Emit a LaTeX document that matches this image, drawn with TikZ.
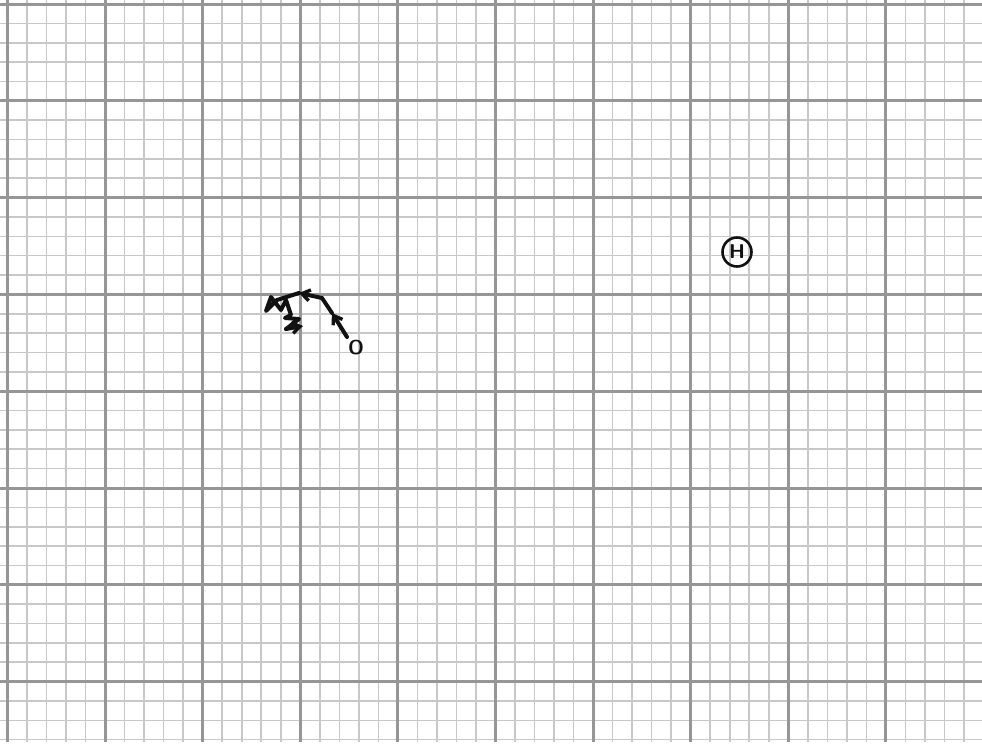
\documentclass[tikz,border=0pt]{standalone}
\usepackage{tikz}
\usetikzlibrary{arrows.meta}
\definecolor{gridminor}{HTML}{C8C8C8}
\definecolor{gridmajor}{HTML}{969696}
\definecolor{pencil}{HTML}{111111}

\begin{document}
\begin{tikzpicture}[x=1pt, y=-1pt,
    minorline/.style={gridminor, line width=1.6pt},
    majorline/.style={gridmajor, line width=3pt},
    trail/.style={pencil, line width=4pt, line cap=round, line join=round},
    tip/.style={-{Straight Barb[length=8pt, width=11pt, line width=3.4pt]}},
    penmark/.style={font=\sffamily\bfseries\fontsize{20}{20}\selectfont, text=pencil}]
  \useasboundingbox (0,0) rectangle (982,745);
  \fill[white] (0,0) rectangle (982,745);

  % --- Graph paper (minor lines) ---
  \foreach \i in {0,...,50} {
    \draw[minorline] ({7.5+19.52*\i},0) -- ({7.5+19.52*\i},742);
  }
  \foreach \j in {0,...,38} {
    \draw[minorline] (0,{4+19.36*\j}) -- (982,{4+19.36*\j});
  }

  % --- Graph paper (major lines) ---
  \foreach \i in {0,...,10} {
    \draw[majorline] ({7.5+97.6*\i},0) -- ({7.5+97.6*\i},742);
  }
  \foreach \j in {0,...,7} {
    \draw[majorline] (0,{4+96.8*\j}) -- (982,{4+96.8*\j});
  }

  % --- Marks ---
  \node[penmark] (origin) at (356,348) {O};
  \node[penmark, circle, draw=pencil, line width=2.6pt, inner sep=0pt,
        minimum width=26pt, minimum height=29pt] (hive) at (737,252) {H};

  % Scribbled trail leaving O
  \coordinate (t1) at (347,337);
  \coordinate (t2) at (332,313);
  \coordinate (t3) at (322,298);
  \coordinate (t4) at (299,293);
  \coordinate (t5) at (277,300);
  \coordinate (t6) at (266,311);
  \coordinate (t7) at (271,297);
  \coordinate (t8) at (281,310);
  \coordinate (t9) at (286,300);
  \coordinate (t10) at (291,315);
  \coordinate (t11) at (285,318);
  \coordinate (t12) at (299,319);
  \coordinate (t13) at (286,329);
  \coordinate (t14) at (303,326);

  \draw[trail, tip] (t1) -- (t2);
  \draw[trail] (t2) -- (t3);
  \draw[trail, tip] (t3) -- (t4);
  \draw[trail] (t4) -- (t5) -- (t6) -- (t7) -- (t8) -- (t9) -- (t10) -- (t11) -- (t12) -- (t13);
  \draw[trail, tip] (t13) -- (t14);
\end{tikzpicture}
\end{document}
